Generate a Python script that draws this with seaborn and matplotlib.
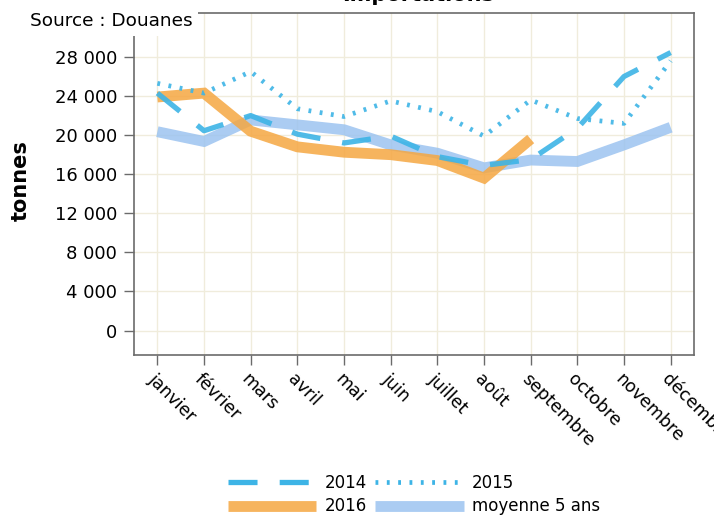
import matplotlib
matplotlib.use("Agg")
import matplotlib.pyplot as plt
import matplotlib.transforms as mtransforms
import seaborn as sns
import pandas as pd
from matplotlib.ticker import FuncFormatter
from matplotlib.lines import Line2D

mois = ["janvier", "février", "mars", "avril", "mai", "juin", "juillet",
        "août", "septembre", "octobre", "novembre", "décembre"]
v2014 = [24300, 20450, 22000, 20100, 19200, 19900, 17800, 16900, 17500, 20700, 26000, 28450]
v2015 = [25300, 24300, 26500, 22700, 21900, 23500, 22400, 19900, 23600, 21700, 21200, 27600]
v2016 = [23900, 24300, 20400, 18800, 18250, 18000, 17400, 15600, 19600]
vmoy = [20350, 19350, 21550, 21050, 20550, 19000, 18150, 16650, 17450, 17300, 19000, 20800]
yticks = [0, 4000, 8000, 12000, 16000, 20000, 24000, 28000]

sns.set_theme(style="white")
plt.rcParams['font.family'] = ['DejaVu Sans']
plt.rcParams['text.color'] = 'black'
plt.rcParams['xtick.labelcolor'] = 'black'
plt.rcParams['ytick.labelcolor'] = 'black'
plt.rcParams['axes.labelcolor'] = 'black'

fig = plt.figure(figsize=(7.14, 5.15), dpi=100)
ax = fig.add_axes([0.1877, 0.3107, 0.972 - 0.1877, 0.9748 - 0.3107])

x = list(range(12))
df_moy = pd.DataFrame({"x": x, "y": vmoy})
df16 = pd.DataFrame({"x": x[:len(v2016)], "y": v2016})
df14 = pd.DataFrame({"x": x, "y": v2014})
df15 = pd.DataFrame({"x": x, "y": v2015})

c_moy = "#9cc3f0"
c_16 = "#f5a742"
c_blue = "#3db4e6"

LW_THICK = 7.8
LW_DASH = 3.8
LW_DOT = 3.4
DASH14 = [5.5, 4.2]
DOT15 = [0.6, 1.8]

sns.lineplot(data=df_moy, x="x", y="y", ax=ax, color=c_moy, lw=LW_THICK, alpha=0.85,
             solid_capstyle="butt", solid_joinstyle="miter")
sns.lineplot(data=df16, x="x", y="y", ax=ax, color=c_16, lw=LW_THICK, alpha=0.85,
             solid_capstyle="butt", solid_joinstyle="miter")
sns.lineplot(data=df14, x="x", y="y", ax=ax, color=c_blue, lw=LW_DASH, alpha=0.9,
             dash_capstyle="butt")
ax.lines[-1].set_dashes(DASH14)
sns.lineplot(data=df15, x="x", y="y", ax=ax, color=c_blue, lw=LW_DOT, alpha=0.9,
             dash_capstyle="butt")
ax.lines[-1].set_dashes(DOT15)

ax.set_xlim(-0.5, 11.5)
ax.set_ylim(-2500, 32500)
ax.set_xticks(x)
ax.set_xticklabels(mois, rotation=-45, ha="left", va="top", rotation_mode="anchor", fontsize=12.5)
for lab in ax.get_xticklabels():
    lab.set_transform(lab.get_transform() + mtransforms.ScaledTranslation(-14/100, -10/100, fig.dpi_scale_trans))
ax.set_yticks(yticks)
ax.yaxis.set_major_formatter(FuncFormatter(lambda v, p: f"{int(v):,}".replace(",", " ")))
ax.tick_params(axis="y", labelsize=13, length=7, width=1, color="#6b6b6b", direction="out", left=True, pad=5)
ax.tick_params(axis="x", length=7, width=1, color="#6b6b6b", direction="out", bottom=True, pad=4)
ax.grid(True, color="#f0ecdc", lw=1)
for s in ax.spines.values():
    s.set_color("#6b6b6b")
    s.set_linewidth(1.2)
ax.set_xlabel("")
ax.set_ylabel("tonnes", fontsize=15, fontweight="bold")
ax.yaxis.set_label_coords(-0.185, 0.51)

fig.text(30/714, 1 - 21/515, "Source : Douanes", fontsize=13.3, ha="left", va="center",
         bbox=dict(facecolor="white", edgecolor="none", pad=4), zorder=10)
fig.text(0.585, 1 - 1/515, "Importations", fontsize=15, fontweight="bold", ha="center", va="baseline")

handles = [
    Line2D([], [], color=c_blue, lw=LW_DASH, dashes=DASH14, dash_capstyle="butt"),
    Line2D([], [], color=c_blue, lw=LW_DOT, dashes=DOT15, dash_capstyle="butt"),
    Line2D([], [], color=c_16, lw=LW_THICK, alpha=0.85, solid_capstyle="butt"),
    Line2D([], [], color=c_moy, lw=LW_THICK, alpha=0.85, solid_capstyle="butt"),
]
labels = ["2014", "2015", "2016", "moyenne 5 ans"]
order_h = [handles[0], handles[2], handles[1], handles[3]]
order_l = [labels[0], labels[2], labels[1], labels[3]]
fig.legend(order_h, order_l, ncol=2, loc="center", bbox_to_anchor=(0.58, 1 - 494.5/515),
           frameon=False, fontsize=12, handlelength=5.3, handletextpad=0.5,
           columnspacing=0.5, labelspacing=0.35, borderpad=0)

fig.savefig("out.png", dpi=100)
